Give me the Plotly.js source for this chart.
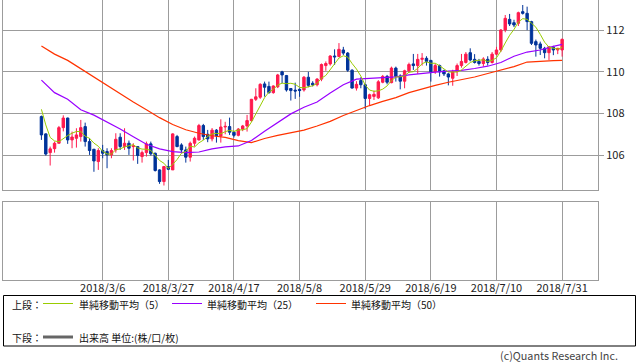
<!DOCTYPE html>
<html><head><meta charset="utf-8">
<script src="https://cdn.plot.ly/plotly-3.0.1.min.js"></script>
<style>html,body{margin:0;padding:0;background:#fff;}#chart{width:638px;height:362px;}</style>
</head><body><div id="chart"></div>
<script>
// trading days (category axis)
const dates = [
 '2018/2/14','2018/2/15','2018/2/16','2018/2/19','2018/2/20','2018/2/21','2018/2/22','2018/2/23','2018/2/26','2018/2/27','2018/2/28',
 '2018/3/1','2018/3/2','2018/3/5','2018/3/6','2018/3/7','2018/3/8','2018/3/9','2018/3/12','2018/3/13','2018/3/14','2018/3/15','2018/3/16','2018/3/19','2018/3/20','2018/3/21','2018/3/22','2018/3/23','2018/3/26','2018/3/27','2018/3/28','2018/3/29','2018/3/30',
 '2018/4/2','2018/4/3','2018/4/4','2018/4/5','2018/4/6','2018/4/9','2018/4/10','2018/4/11','2018/4/12','2018/4/13','2018/4/16','2018/4/17','2018/4/18','2018/4/19','2018/4/20','2018/4/23','2018/4/24','2018/4/25','2018/4/26','2018/4/27','2018/4/30',
 '2018/5/1','2018/5/2','2018/5/3','2018/5/4','2018/5/7','2018/5/8','2018/5/9','2018/5/10','2018/5/11','2018/5/14','2018/5/15','2018/5/16','2018/5/17','2018/5/18','2018/5/21','2018/5/22','2018/5/23','2018/5/24','2018/5/25','2018/5/28','2018/5/29','2018/5/30','2018/5/31',
 '2018/6/1','2018/6/4','2018/6/5','2018/6/6','2018/6/7','2018/6/8','2018/6/11','2018/6/12','2018/6/13','2018/6/14','2018/6/15','2018/6/18','2018/6/19','2018/6/20','2018/6/21','2018/6/22','2018/6/25','2018/6/26','2018/6/27','2018/6/28','2018/6/29',
 '2018/7/2','2018/7/3','2018/7/4','2018/7/5','2018/7/6','2018/7/9','2018/7/10','2018/7/11','2018/7/12','2018/7/13','2018/7/16','2018/7/17','2018/7/18','2018/7/19','2018/7/20','2018/7/23','2018/7/24','2018/7/25','2018/7/26','2018/7/27','2018/7/30','2018/7/31'
];
const openV = [
 107.85,107.02,106.12,106.31,106.57,107.32,107.78,106.73,106.81,106.89,
 107.37,106.65,106.28,105.69,106.22,106.17,106.01,106.25,106.86,106.41,
 106.57,106.41,106.41,105.93,106.12,106.54,106.09,105.29,104.73,105.45,
 105.29,106.89,106.49,106.25,105.90,106.57,106.73,107.42,107.00,106.78,
 107.20,106.92,107.35,107.37,107.10,106.95,107.25,107.40,107.66,108.68,
 108.78,109.42,109.30,109.00,109.28,110.00,109.82,109.20,109.12,109.16,
 109.13,109.74,109.45,109.38,109.65,110.30,110.38,110.76,110.74,111.05,
 110.90,110.08,109.22,109.58,109.38,108.72,108.82,108.75,109.50,109.78,
 109.48,110.18,109.80,109.55,110.05,110.38,110.30,110.60,110.65,110.55,
 110.01,110.30,110.05,109.90,109.69,110.01,110.30,110.45,110.92,110.60,
 110.50,110.40,110.60,110.45,110.85,111.05,112.01,112.52,112.36,112.33,
 112.89,112.81,112.41,111.45,111.34,111.13,110.92,111.18,111.05,111.05
];
const highV = [
 107.90,107.05,106.41,106.65,107.40,107.91,107.80,107.13,107.29,107.69,
 107.56,106.81,106.30,106.33,106.49,106.33,106.33,107.05,107.05,107.29,
 106.70,106.57,106.41,106.22,106.65,106.65,106.12,105.32,105.48,105.77,
 107.05,106.97,106.57,106.41,106.65,106.89,107.50,107.50,107.21,107.30,
 107.25,107.72,107.60,107.80,107.15,107.30,107.45,107.93,108.70,109.21,
 109.45,109.53,109.53,109.35,109.90,110.05,109.85,109.22,109.48,109.20,
 109.80,110.00,109.55,109.70,110.40,110.50,110.80,111.08,111.38,111.20,
 110.95,110.12,109.55,109.74,109.40,108.95,109.10,109.60,109.85,109.85,
 110.25,110.25,109.88,110.10,110.44,110.86,110.86,110.90,110.75,110.57,
 110.40,110.35,110.10,109.95,110.10,110.40,110.86,110.95,111.13,110.85,
 110.62,110.70,110.75,110.95,111.20,112.05,112.73,112.78,112.50,112.89,
 113.21,113.13,112.45,111.55,111.45,111.20,111.21,111.25,111.15,111.60
];
const lowV = [
 106.73,105.98,105.50,106.12,106.57,107.14,106.54,106.33,106.36,106.65,
 106.41,106.01,105.20,105.29,105.85,105.37,105.85,106.12,106.25,106.25,
 106.01,105.74,105.58,105.64,105.93,105.98,105.21,104.62,104.54,105.28,
 105.29,106.38,106.09,105.64,105.69,106.41,106.70,106.73,106.62,106.66,
 106.60,106.60,107.00,106.97,106.85,106.90,107.15,107.13,107.60,108.60,
 108.70,108.81,108.95,108.95,109.22,109.45,109.05,108.62,108.70,108.80,
 109.05,109.26,109.30,109.30,109.55,110.05,110.30,110.33,110.70,110.81,
 110.00,109.20,109.10,109.21,108.22,108.38,108.65,108.70,109.45,109.40,
 109.45,109.53,109.16,109.21,109.95,110.09,109.90,110.30,110.30,109.53,
 109.90,109.77,109.80,109.35,109.33,109.80,110.20,110.40,110.50,110.40,
 110.30,110.25,110.30,110.40,110.80,110.95,111.90,112.20,112.15,112.20,
 112.75,112.00,111.29,110.73,110.81,110.65,110.57,110.80,110.85,110.73
];
const closeV = [
 106.97,106.05,106.30,106.57,107.32,107.78,106.73,106.87,106.97,107.32,
 106.65,106.22,105.72,106.22,106.09,106.01,106.22,106.76,106.41,106.57,
 106.33,106.44,105.98,106.12,106.54,106.06,105.26,104.73,105.45,105.32,
 107.02,106.41,106.25,105.90,106.57,106.81,107.42,106.89,106.78,107.20,
 106.92,107.35,107.38,107.10,106.95,107.25,107.40,107.66,108.68,108.80,
 109.40,109.26,109.00,109.32,109.85,109.85,109.13,109.10,109.08,109.10,
 109.74,109.35,109.38,109.65,110.35,110.40,110.76,110.72,111.08,110.90,
 110.08,109.22,109.40,109.38,108.72,108.90,108.92,109.52,109.78,109.50,
 110.18,109.78,109.55,110.05,110.35,110.30,110.60,110.65,110.50,110.01,
 110.30,110.00,109.90,109.75,110.01,110.30,110.50,110.85,110.57,110.45,
 110.40,110.62,110.45,110.85,111.05,112.01,112.57,112.30,112.25,112.84,
 112.81,112.41,111.37,111.29,111.13,110.92,111.21,111.05,111.13,111.56
];
// first four 5-day averages (need closes before the window)
const ma5Lead = [108.20,107.45,106.85,106.68];
// 25/50-day averages at these days
const maDates = ['2018/2/14','2018/2/19','2018/2/22','2018/2/27','2018/3/2','2018/3/7','2018/3/12','2018/3/15','2018/3/20','2018/3/23','2018/3/28','2018/4/2','2018/4/5','2018/4/10','2018/4/13','2018/4/18','2018/4/23','2018/4/26','2018/5/1','2018/5/4','2018/5/9','2018/5/14','2018/5/17','2018/5/22','2018/5/25','2018/5/30','2018/6/4','2018/6/7','2018/6/12','2018/6/15','2018/6/20','2018/6/25','2018/6/28','2018/7/3','2018/7/6','2018/7/11','2018/7/16','2018/7/19','2018/7/24','2018/7/27','2018/7/31'];
const ma25V = [109.60,109.00,108.68,108.18,107.92,107.60,107.25,106.88,106.52,106.30,106.17,106.12,106.15,106.30,106.40,106.44,106.70,107.15,107.55,107.98,108.30,108.55,108.98,109.38,109.65,109.68,109.70,109.76,109.85,109.93,109.99,110.03,110.07,110.16,110.27,110.45,110.75,110.95,111.05,111.22,111.32];
const ma50V = [111.24,110.85,110.55,110.15,109.72,109.32,108.92,108.55,108.18,107.80,107.47,107.22,107.05,106.93,106.85,106.70,106.60,106.80,106.95,107.07,107.20,107.40,107.62,107.90,108.15,108.38,108.58,108.76,109.00,109.18,109.35,109.50,109.62,109.75,109.92,110.08,110.25,110.47,110.52,110.54,110.55];
const tickDates = ['2018/3/6','2018/3/27','2018/4/17','2018/5/8','2018/5/29','2018/6/19','2018/7/10','2018/7/31'];
const yTicks = [106,108,110,112];
const legendTexts = ['単純移動平均（5）','単純移動平均（25）','単純移動平均（50）'];

const ma5 = closeV.map((c,i)=> i<4 ? ma5Lead[i] : (closeV[i-4]+closeV[i-3]+closeV[i-2]+closeV[i-1]+c)/5);

const RED='#ff1a4d', BLUE='#003399', GRID='#9c9c9c';
const C5='#99cc00', C25='#9900ff', C50='#ff3300';
const FONT='"Noto Sans CJK JP", sans-serif';

const M={l:3,r:40,t:0,b:82};
const PW=638-M.l-M.r, PH=362-M.t-M.b;
const px=p=>(p-M.l)/PW, py=p=>(M.t+PH-p)/PH;

const traces=[
 {type:'candlestick',x:dates,open:openV,high:highV,low:lowV,close:closeV,xaxis:'x',yaxis:'y',
  increasing:{line:{color:RED,width:1},fillcolor:RED},
  decreasing:{line:{color:BLUE,width:1},fillcolor:BLUE},
  whiskerwidth:0,hoverinfo:'skip',showlegend:false},
 {type:'scatter',mode:'lines',x:maDates,y:ma50V,line:{color:C50,width:1.2},xaxis:'x',yaxis:'y',hoverinfo:'skip',showlegend:false},
 {type:'scatter',mode:'lines',x:maDates,y:ma25V,line:{color:C25,width:1.2},xaxis:'x',yaxis:'y',hoverinfo:'skip',showlegend:false},
 {type:'scatter',mode:'lines',x:dates,y:ma5,line:{color:C5,width:1},xaxis:'x',yaxis:'y',hoverinfo:'skip',showlegend:false},
 // empty lower panel (出来高): no values shown in the reference
 {type:'scatter',mode:'lines',x:tickDates,y:tickDates.map(()=>null),xaxis:'x2',yaxis:'y2',hoverinfo:'skip',showlegend:false}
];

const xr=[-8.78,127.2];
const xBase={type:'category',categoryorder:'array',categoryarray:dates,range:xr,showgrid:true,gridcolor:GRID,gridwidth:1,
 tickvals:tickDates,ticktext:tickDates,ticks:'',showline:true,linecolor:GRID,linewidth:1,mirror:true,zeroline:false,fixedrange:true};

const layout={
 width:638,height:362,margin:M,paper_bgcolor:'#fff',plot_bgcolor:'#fff',showlegend:false,
 font:{family:FONT,size:11,color:'#222'},
 boxgap:0.45,boxgroupgap:0,
 xaxis:Object.assign({},xBase,{anchor:'y',showticklabels:false,rangeslider:{visible:false}}),
 yaxis:{domain:[(PH-190.3)/PH,1],range:[104.31,113.45],side:'right',tickvals:yTicks,ticktext:yTicks.map(String),
  ticks:'outside',ticklen:5,tickcolor:GRID,showgrid:true,gridcolor:GRID,showline:true,linecolor:GRID,mirror:true,
  zeroline:false,anchor:'x',tickfont:{size:11,color:'#222'},fixedrange:true},
 xaxis2:Object.assign({},xBase,{anchor:'y2',showticklabels:true,ticklabelstandoff:-2,tickfont:{size:11,color:'#222'}}),
 yaxis2:{domain:[0,(PH-201.7)/PH],range:[0,1],showgrid:false,showticklabels:false,ticks:'',showline:true,linecolor:GRID,mirror:true,zeroline:false,anchor:'x2',fixedrange:true},
 shapes:[
  {type:'rect',xref:'paper',yref:'paper',x0:px(3.5),x1:px(635.5),y0:py(346),y1:py(295.5),line:{color:'#000',width:1}},
  {type:'line',xref:'paper',yref:'paper',x0:px(43),x1:px(73),y0:py(303.5),y1:py(303.5),line:{color:C5,width:1}},
  {type:'line',xref:'paper',yref:'paper',x0:px(172),x1:px(202),y0:py(303.5),y1:py(303.5),line:{color:C25,width:1}},
  {type:'line',xref:'paper',yref:'paper',x0:px(316),x1:px(346),y0:py(303.5),y1:py(303.5),line:{color:C50,width:1}},
  {type:'line',xref:'paper',yref:'paper',x0:px(43),x1:px(73),y0:py(337),y1:py(337),line:{color:'#666',width:3}}
 ],
 annotations:[
  {text:'上段：',x:px(11),y:py(304)},
  {text:legendTexts[0],x:px(78),y:py(304)},
  {text:legendTexts[1],x:px(206),y:py(304)},
  {text:legendTexts[2],x:px(350),y:py(304)},
  {text:'下段：',x:px(11),y:py(337)},
  {text:'出来高 単位:(株/口/枚)',x:px(78),y:py(337)},
  {text:'(c)Quants Research Inc.',x:px(619),y:py(355),xanchor:'right',font:{size:10.8,color:'#444'}}
 ].map(a=>Object.assign({xref:'paper',yref:'paper',showarrow:false,xanchor:'left',yanchor:'middle',borderpad:0,font:{size:10,color:'#111'}},a))
};

Plotly.newPlot('chart',traces,layout,{staticPlot:true,displayModeBar:false});
</script>
</body></html>
